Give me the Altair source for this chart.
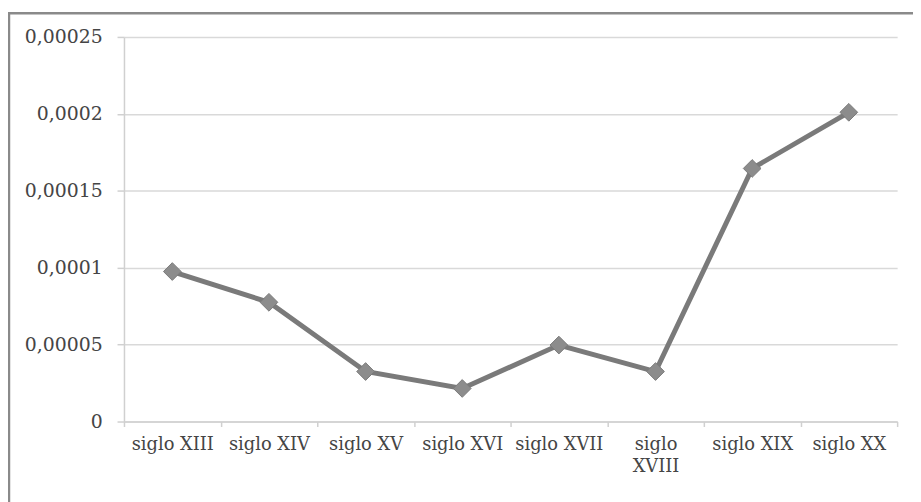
import altair as alt
import pandas as pd

categories = ["siglo XIII", "siglo XIV", "siglo XV", "siglo XVI", "siglo XVII",
              "siglo XVIII", "siglo XIX", "siglo XX"]
values = [0.0000975, 0.0000775, 0.0000325, 0.0000215, 0.0000497,
          0.0000325, 0.0001645, 0.000201]
y_ticks = [0, 0.00005, 0.0001, 0.00015, 0.0002, 0.00025]

df = pd.DataFrame({"cat": categories, "val": values})

FONT = "DejaVu Serif"

x_enc = alt.X("cat:N", sort=categories, title=None,
              scale=alt.Scale(type="band", paddingInner=0, paddingOuter=0),
              axis=alt.Axis(labelAngle=0, tickBand="extent", ticks=True, tickSize=5,
                            tickColor="#d0d0d0", tickWidth=1.5, domainColor="#d0d0d0",
                            domainWidth=1.5, labelPadding=9, labelFont=FONT,
                            labelFontSize=18, labelColor="#454545", labelLineHeight=22,
                            labelExpr="datum.label == 'siglo XVIII' ? ['siglo', 'XVIII'] : datum.label"))
y_enc = alt.Y("val:Q", title=None,
              scale=alt.Scale(domain=[0, 0.00025], nice=False),
              axis=alt.Axis(values=y_ticks, grid=True, gridColor="#d9d9d9", gridWidth=1.5,
                            domainColor="#d0d0d0", domainWidth=1.5, tickSize=7,
                            tickColor="#d0d0d0", tickWidth=1.5, labelPadding=15,
                            labelFont=FONT, labelFontSize=19, labelColor="#454545",
                            labelExpr="replace(format(datum.value, '.5~f'), '.', ',')"))

line = alt.Chart(df).mark_line(color="#7a7a7a", strokeWidth=5).encode(x=x_enc, y=y_enc)
pts = alt.Chart(df).mark_point(shape="diamond", filled=True, size=320, color="#8c8c8c",
                               stroke="#7a7a7a", strokeWidth=1, opacity=1).encode(x=x_enc, y=y_enc)

border = alt.Chart(pd.DataFrame({"a": [0]})).mark_rect(
    fill=None, stroke="#8a8a8a", strokeWidth=2.5
).encode(x=alt.value(-116), x2=alt.value(820), y=alt.value(-24), y2=alt.value(520))

chart = alt.layer(border, line, pts).properties(
    width=780, height=388,
    autosize=alt.AutoSizeParams(type="none"),
    padding={"left": 117, "top": 27, "right": 16, "bottom": 79},
    background="white",
).configure_view(stroke=None)

chart.save("out.html", embed_options={"renderer": "svg", "actions": False})
